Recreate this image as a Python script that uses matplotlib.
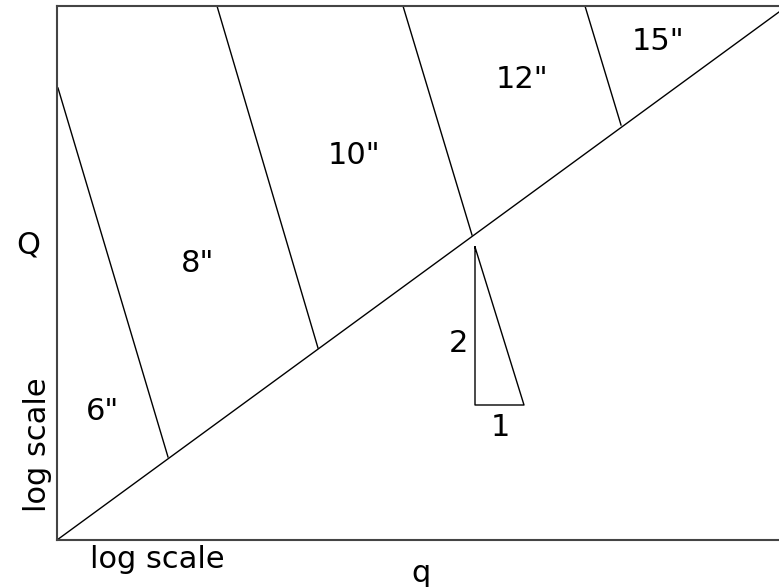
import matplotlib
matplotlib.use("Agg")
import matplotlib.pyplot as plt

# chart coordinates (log-log space; origin at lower-left corner)
diag_x = [0, 722]
diag_y = [0, 528]

# pipe-size boundary lines: (x_top, y_top) -> (x_bottom, y_bottom) on the diagonal
pipe_top_x = [1, 160, 346, 528]
pipe_top_y = [452, 534, 534, 534]
pipe_bot_x = [111, 261, 415, 564]
pipe_bot_y = [83, 192, 305, 415]

# pipe labels
pipe_labels = ['6"', '8"', '10"', '12"', '15"']
label_x = [45, 141, 297, 465, 601]
label_y = [128, 277, 384, 460, 498]

# slope triangle (2:1)
tri_x = [418, 418, 467, 418]
tri_y = [293, 135, 135, 293]

W, H = 779, 587
fig = plt.figure(figsize=(W / 100, H / 100), dpi=100)
ax = fig.add_axes([57 / W, (H - 540) / H, (W - 57) / W, (540 - 6) / H])

ax.plot(diag_x, diag_y, color='black', linewidth=1.0)
for i in range(len(pipe_top_x)):
    ax.plot([pipe_top_x[i], pipe_bot_x[i]], [pipe_top_y[i], pipe_bot_y[i]],
            color='black', linewidth=1.0)
ax.plot(tri_x, tri_y, color='black', linewidth=1.0)

fs = 22
for lab, x, y in zip(pipe_labels, label_x, label_y):
    ax.text(x, y, lab, fontsize=fs, ha='center', va='center')
ax.text(401, 197, "2", fontsize=fs, ha='center', va='center')
ax.text(443, 112, "1", fontsize=fs, ha='center', va='center')

ax.set_xlim(0, 722)
ax.set_ylim(0, 534)
ax.set_xticks([])
ax.set_yticks([])
ax.spines['right'].set_visible(False)
for s in ['left', 'bottom', 'top']:
    ax.spines[s].set_color('#444444')
    ax.spines[s].set_linewidth(1.5)

fig.text(28 / W, 1 - 245 / H, "Q", fontsize=fs, ha='center', va='center')
fig.text(37 / W, 1 - 445 / H, "log scale", fontsize=fs, ha='center', va='center', rotation=90)
fig.text(157 / W, 1 - 560 / H, "log scale", fontsize=fs, ha='center', va='center')
fig.text(421 / W, 1 - 573 / H, "q", fontsize=fs, ha='center', va='center')

fig.savefig("out.png", dpi=100)
